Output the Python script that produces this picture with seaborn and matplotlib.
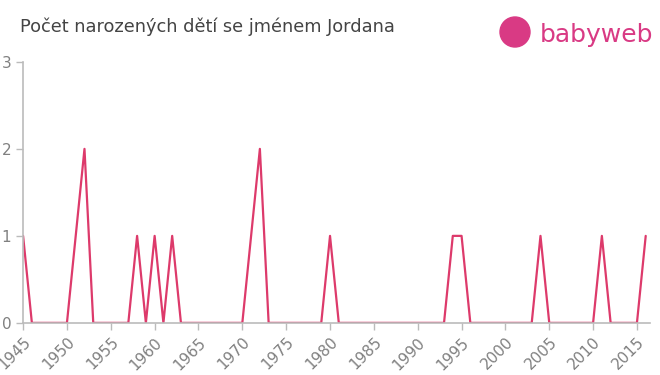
import pandas as pd
import numpy as np
import matplotlib.pyplot as plt
import seaborn as sns
from matplotlib.patches import Ellipse

# roky a počty narozených
roky = list(range(1945, 2017))
nenulove = {1945: 1, 1951: 1, 1952: 2, 1958: 1, 1960: 1, 1962: 1, 1971: 1, 1972: 2,
            1980: 1, 1994: 1, 1995: 1, 2004: 1, 2011: 1, 2016: 1}
pocty = [nenulove.get(r, 0) for r in roky]
x_ticks = list(range(1945, 2016, 5))
y_ticks = [0, 1, 2, 3]

df = pd.DataFrame({"rok": roky, "pocet": pocty})

sns.set_style("white")
fig = plt.figure(figsize=(6.6, 3.75), dpi=100)
ax = fig.add_axes([0.035, 0.139, 0.95, 0.696])

sns.lineplot(data=df, x="rok", y="pocet", ax=ax, color="#dd3a6b", linewidth=1.6)

ax.set_xlim(1945, 2016.5)
ax.set_ylim(0, 3)
ax.set_xticks(x_ticks)
ax.set_xticklabels([str(t) for t in x_ticks], rotation=45, ha="right", rotation_mode="anchor")
ax.set_yticks(y_ticks)
ax.set_xlabel("")
ax.set_ylabel("")

for s in ["top", "right"]:
    ax.spines[s].set_visible(False)
for s in ["left", "bottom"]:
    ax.spines[s].set_color("#bbbbbb")
    ax.spines[s].set_linewidth(1.2)
ax.tick_params(axis="both", colors="#bbbbbb", labelcolor="#808080", labelsize=11,
               length=5, width=1, direction="out", bottom=True, left=True)

fig.text(0.03, 0.915, "Počet narozených dětí se jménem Jordana", fontsize=12.8, color="#444444")

# logo
logo = Ellipse((515 / 660, 1 - 32 / 375), 30 / 660, 30 / 375, transform=fig.transFigure, color="#d93a84")
fig.patches.append(logo)
fig.text(0.818, 1 - 35 / 375, "babyweb", fontsize=18, color="#d93a84", va="center")

fig.savefig("out.png", dpi=100)
